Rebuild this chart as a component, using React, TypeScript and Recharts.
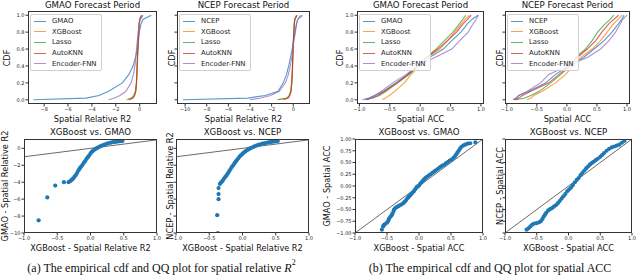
import { ComposedChart, Line, Scatter, XAxis, YAxis, ReferenceLine } from 'recharts';

const cdfLevels = [0, 0.02, 0.05, 0.1, 0.2, 0.3, 0.4, 0.5, 0.6, 0.7, 0.8, 0.9, 0.95, 1];
const cdfTicks = [0, 0.2, 0.4, 0.6, 0.8, 1];

const gmaoNames = ['GMAO', 'XGBoost', 'Lasso', 'AutoKNN', 'Encoder-FNN'];
const ncepNames = ['NCEP', 'XGBoost', 'Lasso', 'AutoKNN', 'Encoder-FNN'];
const seriesColors = ['#1f77b4', '#ff7f0e', '#2ca02c', '#d62728', '#9467bd'];

// spatial relative R2, GMAO period
const r2GmaoBase = [-8.9, -4.5, -3.4, -2.6, -1.45, -0.9, -0.55, -0.35, -0.2, -0.1, -0.03, 0.12, 0.27, 0.97];
const r2GmaoXgb = [-1.1, -0.62, -0.45, -0.33, -0.27, -0.24, -0.22, -0.19, -0.16, -0.13, -0.1, -0.06, -0.02, 0.12];
const r2GmaoLasso = [-1.0, -0.7, -0.5, -0.36, -0.28, -0.25, -0.22, -0.19, -0.16, -0.13, -0.09, -0.04, 0.0, 0.18];
const r2GmaoKnn = [-0.85, -0.55, -0.42, -0.32, -0.26, -0.22, -0.2, -0.17, -0.14, -0.11, -0.08, -0.03, 0.02, 0.2];
const r2GmaoEnc = [-2.6, -2.1, -1.65, -1.15, -0.72, -0.52, -0.4, -0.33, -0.27, -0.2, -0.13, -0.04, 0.05, 0.3];

// spatial relative R2, NCEP period
const r2NcepBase = [-10.2, -4.2, -2.6, -1.4, -0.92, -0.62, -0.42, -0.25, -0.1, 0.02, 0.16, 0.3, 0.42, 0.85];
const r2NcepXgb = [-1.4, -0.55, -0.35, -0.22, -0.14, -0.1, -0.07, -0.04, -0.02, 0.01, 0.05, 0.1, 0.14, 0.32];
const r2NcepLasso = [-1.45, -0.6, -0.38, -0.24, -0.15, -0.1, -0.07, -0.05, -0.02, 0.01, 0.04, 0.09, 0.13, 0.3];
const r2NcepKnn = [-0.9, -0.45, -0.32, -0.2, -0.13, -0.09, -0.06, -0.03, 0.0, 0.03, 0.06, 0.11, 0.15, 0.36];
const r2NcepEnc = [-4.0, -3.0, -2.1, -1.3, -0.72, -0.45, -0.27, -0.14, -0.04, 0.07, 0.2, 0.32, 0.42, 0.65];

// spatial ACC, GMAO period
const accGmaoBase = [-0.95, -0.85, -0.75, -0.6, -0.4, -0.2, -0.04, 0.15, 0.38, 0.52, 0.67, 0.78, 0.85, 0.95];
const accGmaoXgb = [-0.62, -0.57, -0.51, -0.42, -0.26, -0.15, -0.01, 0.12, 0.32, 0.45, 0.57, 0.68, 0.74, 0.81];
const accGmaoLasso = [-0.9, -0.78, -0.67, -0.56, -0.37, -0.18, -0.03, 0.1, 0.26, 0.4, 0.54, 0.65, 0.7, 0.75];
const accGmaoKnn = [-0.88, -0.8, -0.7, -0.59, -0.38, -0.2, -0.04, 0.1, 0.29, 0.45, 0.6, 0.71, 0.78, 0.84];
const accGmaoEnc = [-0.9, -0.82, -0.75, -0.64, -0.45, -0.23, -0.05, 0.24, 0.52, 0.65, 0.79, 0.87, 0.92, 0.96];

// spatial ACC, NCEP period
const accNcepBase = [-0.88, -0.84, -0.8, -0.63, -0.35, -0.19, 0.03, 0.28, 0.45, 0.62, 0.75, 0.86, 0.91, 0.95];
const accNcepXgb = [-0.66, -0.6, -0.55, -0.41, -0.19, -0.02, 0.1, 0.23, 0.42, 0.56, 0.67, 0.78, 0.85, 0.92];
const accNcepLasso = [-0.85, -0.7, -0.6, -0.46, -0.27, -0.1, 0.06, 0.14, 0.31, 0.42, 0.51, 0.64, 0.72, 0.78];
const accNcepKnn = [-0.87, -0.8, -0.74, -0.6, -0.3, -0.13, 0.05, 0.17, 0.34, 0.48, 0.58, 0.7, 0.78, 0.86];
const accNcepEnc = [-0.9, -0.85, -0.8, -0.66, -0.44, -0.3, 0.0, 0.34, 0.56, 0.7, 0.81, 0.89, 0.93, 1.0];

// QQ points: [XGBoost quantile, baseline quantile]
const qqR2Gmao: [number, number][] = [
  [-0.78, -8.5], [-0.65, -5.8], [-0.53, -4.4], [-0.4, -4.0], [-0.33, -4.0],
  [-0.3, -3.85], [-0.28, -3.7], [-0.26, -3.55], [-0.24, -3.35], [-0.22, -3.15], [-0.2, -2.9],
  [-0.18, -2.6], [-0.16, -2.35], [-0.14, -2.15], [-0.12, -1.95], [-0.1, -1.7], [-0.08, -1.5],
  [-0.06, -1.25], [-0.04, -1.05], [-0.02, -0.85], [0.0, -0.6], [0.02, -0.42], [0.04, -0.28],
  [0.06, -0.15], [0.08, -0.05], [0.1, 0.05], [0.13, 0.17], [0.16, 0.28], [0.19, 0.38],
  [0.22, 0.48], [0.25, 0.56], [0.28, 0.62], [0.31, 0.68], [0.34, 0.72], [0.37, 0.76],
  [0.4, 0.8], [0.43, 0.83], [0.46, 0.85], [0.48, 0.87],
];
const qqR2Ncep: [number, number][] = [
  [-0.37, -10.0], [-0.38, -7.9], [-0.36, -6.0], [-0.36, -5.4], [-0.36, -4.7],
  [-0.34, -4.2], [-0.32, -4.0], [-0.3, -3.85], [-0.28, -3.6], [-0.26, -3.4], [-0.24, -3.2],
  [-0.22, -2.95], [-0.2, -2.7], [-0.18, -2.45], [-0.16, -2.2], [-0.14, -2.0], [-0.12, -1.75],
  [-0.1, -1.55], [-0.08, -1.35], [-0.06, -1.15], [-0.04, -0.95], [-0.02, -0.8], [0.0, -0.65],
  [0.02, -0.5], [0.04, -0.38], [0.06, -0.26], [0.08, -0.16], [0.1, -0.07], [0.12, 0.02],
  [0.15, 0.12], [0.18, 0.22], [0.21, 0.32], [0.24, 0.4], [0.27, 0.48], [0.3, 0.55],
  [0.33, 0.6], [0.36, 0.65], [0.39, 0.7], [0.42, 0.74], [0.45, 0.78], [0.48, 0.81],
  [0.51, 0.84], [0.53, 0.86],
];
const qqAccGmao: [number, number][] = [
  [-0.58, -0.93], [-0.56, -0.86], [-0.55, -0.83], [-0.53, -0.81], [-0.5, -0.78], [-0.48, -0.74],
  [-0.47, -0.7], [-0.45, -0.66], [-0.43, -0.63], [-0.42, -0.6], [-0.4, -0.55], [-0.39, -0.5],
  [-0.37, -0.47], [-0.35, -0.45], [-0.32, -0.43], [-0.3, -0.41], [-0.27, -0.39], [-0.24, -0.36],
  [-0.22, -0.33], [-0.2, -0.3], [-0.18, -0.26], [-0.16, -0.23], [-0.14, -0.2], [-0.12, -0.17],
  [-0.1, -0.14], [-0.08, -0.11], [-0.06, -0.07], [-0.04, -0.03], [-0.02, -0.01], [0.0, 0.01],
  [0.02, 0.05], [0.04, 0.08], [0.06, 0.11], [0.08, 0.14], [0.1, 0.17], [0.12, 0.19],
  [0.15, 0.22], [0.18, 0.25], [0.21, 0.28], [0.24, 0.31], [0.27, 0.34], [0.3, 0.37],
  [0.33, 0.4], [0.36, 0.43], [0.39, 0.45], [0.42, 0.48], [0.45, 0.51], [0.48, 0.54],
  [0.51, 0.56], [0.54, 0.6], [0.56, 0.63], [0.58, 0.67], [0.6, 0.71], [0.62, 0.75],
  [0.64, 0.79], [0.66, 0.83], [0.69, 0.86], [0.72, 0.88], [0.76, 0.9], [0.8, 0.91], [0.88, 0.93],
];
const qqAccNcep: [number, number][] = [
  [-0.66, -0.93], [-0.63, -0.9], [-0.6, -0.86], [-0.57, -0.82], [-0.54, -0.8], [-0.5, -0.79],
  [-0.46, -0.77], [-0.43, -0.74], [-0.41, -0.7], [-0.39, -0.65], [-0.37, -0.61], [-0.35, -0.57],
  [-0.32, -0.52], [-0.29, -0.49], [-0.26, -0.47], [-0.23, -0.44], [-0.2, -0.41], [-0.17, -0.37],
  [-0.14, -0.32], [-0.11, -0.27], [-0.08, -0.22], [-0.05, -0.17], [-0.02, -0.11], [0.01, -0.07],
  [0.04, -0.03], [0.07, 0.02], [0.1, 0.08], [0.13, 0.13], [0.16, 0.17], [0.19, 0.23],
  [0.22, 0.28], [0.25, 0.33], [0.28, 0.38], [0.31, 0.42], [0.34, 0.46], [0.37, 0.49],
  [0.4, 0.52], [0.43, 0.55], [0.46, 0.58], [0.5, 0.62], [0.53, 0.66], [0.56, 0.7],
  [0.6, 0.75], [0.64, 0.79], [0.68, 0.82], [0.72, 0.84], [0.76, 0.86], [0.8, 0.88],
  [0.84, 0.92], [0.88, 0.96],
];

const r2TicksA = [-8, -6, -4, -2, 0];
const r2TicksB = [-10, -8, -6, -4, -2, 0];
const qqR2YTicks = [-10, -8, -6, -4, -2, 0];
const accTicks = [-1, -0.5, 0, 0.5, 1];
const accQqTicks = [-1, -0.75, -0.5, -0.25, 0, 0.25, 0.5, 0.75, 1];

type Frame = { x: number; y: number; w: number; h: number };
const PAD_L = 30;
const PAD_B = 14;
const PAD_T = 3;
const PAD_R = 4;
const FONT = 'DejaVu Sans';

const fmt = (d: number) => (v: number) => (v < 0 ? '\u2212' : '') + Math.abs(v).toFixed(d);
const blank = () => '';

function Panel({ frame, xDomain, yDomain, xTicks, yTicks, xFmt, yFmt, children }: any) {
  return (
    <>
      <div style={{ position: 'absolute', left: frame.x - PAD_L, top: frame.y - PAD_T }}>
        <ComposedChart
          width={frame.w + PAD_L + PAD_R}
          height={frame.h + PAD_T + PAD_B}
          margin={{ top: PAD_T, right: PAD_R, bottom: 0, left: 0 }}
        >
          <XAxis
            type="number"
            dataKey="x"
            domain={xDomain}
            ticks={xTicks}
            interval={0}
            allowDataOverflow
            height={PAD_B}
            axisLine={false}
            stroke="#333"
            tickSize={2.5}
            tickMargin={1}
            tick={{ fontSize: 5, fill: '#222', fontFamily: FONT }}
            tickFormatter={xFmt}
          />
          <YAxis
            type="number"
            dataKey="y"
            domain={yDomain}
            ticks={yTicks}
            interval={0}
            allowDataOverflow
            width={PAD_L}
            axisLine={false}
            stroke="#333"
            tickSize={2.5}
            tickMargin={1}
            tick={{ fontSize: 5, fill: '#222', fontFamily: FONT }}
            tickFormatter={yFmt}
          />
          {children}
        </ComposedChart>
      </div>
      <div
        style={{
          position: 'absolute',
          left: frame.x,
          top: frame.y,
          width: frame.w,
          height: frame.h,
          border: '1px solid #333',
          boxSizing: 'border-box',
        }}
      />
    </>
  );
}

function Txt({ x, y, size, rotate, family, children }: any) {
  return (
    <div
      style={{
        position: 'absolute',
        left: x,
        top: y,
        transform: `translate(-50%, -50%)${rotate ? ' rotate(-90deg)' : ''}`,
        fontSize: size,
        fontFamily: family ?? FONT,
        whiteSpace: 'nowrap',
        lineHeight: 1,
        color: '#111',
      }}
    >
      {children}
    </div>
  );
}

function CdfLegend({ frame, names }: { frame: Frame; names: string[] }) {
  return (
    <div
      style={{
        position: 'absolute',
        left: frame.x + 2,
        top: frame.y + 3,
        width: 70,
        padding: '1px 0',
        border: '1px solid #d0d0d0',
        borderRadius: 2,
        background: 'rgba(255,255,255,0.85)',
        fontFamily: FONT,
        fontSize: 6.9,
        color: '#222',
      }}
    >
      {names.map((n, i) => (
        <div key={n} style={{ display: 'flex', alignItems: 'center', height: 10.6 }}>
          <div
            style={{
              width: 12,
              borderTop: `1.2px solid ${seriesColors[i]}`,
              opacity: 0.75,
              marginLeft: 3,
              marginRight: 6,
            }}
          />
          <span>{n}</span>
        </div>
      ))}
    </div>
  );
}

function cdfLines(series: number[][]) {
  return series.map((xs, i) => (
    <Line
      key={i}
      data={xs.map((x, k) => ({ x, y: cdfLevels[k] }))}
      dataKey="y"
      type="linear"
      stroke={seriesColors[i]}
      strokeWidth={1.1}
      strokeOpacity={0.75}
      dot={false}
      isAnimationActive={false}
    />
  ));
}

function qqMarks(points: [number, number][]) {
  return [
    <ReferenceLine
      key="diag"
      segment={[{ x: -1, y: -1 }, { x: 1, y: 1 }]}
      stroke="#444"
      strokeWidth={0.8}
    />,
    <Scatter
      key="pts"
      data={points.map(([x, y]) => ({ x, y }))}
      isAnimationActive={false}
      shape={(p: any) => <circle cx={p.cx} cy={p.cy} r={2.1} fill="#1f77b4" />}
    />,
  ];
}

const f1: Frame = { x: 28, y: 11, w: 129, h: 93 };
const f2: Frame = { x: 177, y: 11, w: 133, h: 93 };
const f3: Frame = { x: 357, y: 11, w: 127, h: 93 };
const f4: Frame = { x: 505, y: 11, w: 125, h: 93 };
const f5: Frame = { x: 24, y: 139, w: 133, h: 94 };
const f6: Frame = { x: 176, y: 139, w: 133, h: 94 };
const f7: Frame = { x: 355, y: 139, w: 128, h: 94 };
const f8: Frame = { x: 505, y: 139, w: 127, h: 94 };

const cx = (f: Frame) => f.x + f.w / 2;
const cy = (f: Frame) => f.y + f.h / 2;

export default function App() {
  const titleSize = 8.6;
  const labelSize = 8.2;
  return (
    <div
      style={{
        position: 'absolute',
        left: 0,
        top: 0,
        width: 640,
        height: 279,
        background: '#fff',
        overflow: 'hidden',
      }}
    >
      {/* top row: empirical cdfs */}
      <Panel frame={f1} xDomain={[-9.35, 1.45]} yDomain={[-0.05, 1.05]} xTicks={r2TicksA} yTicks={cdfTicks} xFmt={fmt(0)} yFmt={fmt(1)}>
        {cdfLines([r2GmaoBase, r2GmaoXgb, r2GmaoLasso, r2GmaoKnn, r2GmaoEnc])}
      </Panel>
      <Panel frame={f2} xDomain={[-10.75, 1.55]} yDomain={[-0.05, 1.05]} xTicks={r2TicksB} yTicks={cdfTicks} xFmt={fmt(0)} yFmt={blank}>
        {cdfLines([r2NcepBase, r2NcepXgb, r2NcepLasso, r2NcepKnn, r2NcepEnc])}
      </Panel>
      <Panel frame={f3} xDomain={[-1.04, 1.05]} yDomain={[-0.05, 1.05]} xTicks={accTicks} yTicks={cdfTicks} xFmt={fmt(1)} yFmt={fmt(1)}>
        {cdfLines([accGmaoBase, accGmaoXgb, accGmaoLasso, accGmaoKnn, accGmaoEnc])}
      </Panel>
      <Panel frame={f4} xDomain={[-1.03, 1.05]} yDomain={[-0.05, 1.05]} xTicks={accTicks} yTicks={cdfTicks} xFmt={fmt(1)} yFmt={blank}>
        {cdfLines([accNcepBase, accNcepXgb, accNcepLasso, accNcepKnn, accNcepEnc])}
      </Panel>

      <CdfLegend frame={f1} names={gmaoNames} />
      <CdfLegend frame={f2} names={ncepNames} />
      <CdfLegend frame={f3} names={gmaoNames} />
      <CdfLegend frame={f4} names={ncepNames} />

      {/* bottom row: QQ plots */}
      <Panel frame={f5} xDomain={[-1, 1]} yDomain={[-10, 1.1]} xTicks={accTicks} yTicks={qqR2YTicks} xFmt={fmt(1)} yFmt={fmt(0)}>
        {qqMarks(qqR2Gmao)}
      </Panel>
      <Panel frame={f6} xDomain={[-1, 1]} yDomain={[-10, 1.1]} xTicks={accTicks} yTicks={qqR2YTicks} xFmt={fmt(1)} yFmt={blank}>
        {qqMarks(qqR2Ncep)}
      </Panel>
      <Panel frame={f7} xDomain={[-1, 1]} yDomain={[-1, 1]} xTicks={accTicks} yTicks={accQqTicks} xFmt={fmt(1)} yFmt={fmt(2)}>
        {qqMarks(qqAccGmao)}
      </Panel>
      <Panel frame={f8} xDomain={[-1, 1]} yDomain={[-1, 1]} xTicks={accTicks} yTicks={accQqTicks} xFmt={fmt(1)} yFmt={blank}>
        {qqMarks(qqAccNcep)}
      </Panel>

      {/* titles */}
      <Txt x={cx(f1)} y={5} size={titleSize}>GMAO Forecast Period</Txt>
      <Txt x={cx(f2)} y={5} size={titleSize}>NCEP Forecast Period</Txt>
      <Txt x={cx(f3)} y={5} size={titleSize}>GMAO Forecast Period</Txt>
      <Txt x={cx(f4)} y={5} size={titleSize}>NCEP Forecast Period</Txt>
      <Txt x={cx(f5)} y={132} size={titleSize}>XGBoost vs. GMAO</Txt>
      <Txt x={cx(f6)} y={132} size={titleSize}>XGBoost vs. NCEP</Txt>
      <Txt x={cx(f7)} y={132} size={titleSize}>XGBoost vs. GMAO</Txt>
      <Txt x={cx(f8)} y={132} size={titleSize}>XGBoost vs. NCEP</Txt>

      {/* axis labels */}
      <Txt x={cx(f1)} y={119} size={labelSize}>Spatial Relative R2</Txt>
      <Txt x={cx(f2)} y={119} size={labelSize}>Spatial Relative R2</Txt>
      <Txt x={cx(f3)} y={119} size={labelSize}>Spatial ACC</Txt>
      <Txt x={cx(f4)} y={119} size={labelSize}>Spatial ACC</Txt>
      <Txt x={7} y={cy(f1)} size={labelSize} rotate>CDF</Txt>
      <Txt x={172} y={cy(f2)} size={labelSize} rotate>CDF</Txt>
      <Txt x={340} y={cy(f3)} size={labelSize} rotate>CDF</Txt>
      <Txt x={500} y={cy(f4)} size={labelSize} rotate>CDF</Txt>

      <Txt x={cx(f5)} y={248} size={labelSize}>XGBoost - Spatial Relative R2</Txt>
      <Txt x={cx(f6)} y={248} size={labelSize}>XGBoost - Spatial Relative R2</Txt>
      <Txt x={cx(f7)} y={248} size={labelSize}>XGBoost - Spatial ACC</Txt>
      <Txt x={cx(f8)} y={248} size={labelSize}>XGBoost - Spatial ACC</Txt>
      <Txt x={5} y={cy(f5)} size={labelSize} rotate>GMAO - Spatial Relative R2</Txt>
      <Txt x={170} y={cy(f6)} size={labelSize} rotate>NCEP - Spatial Relative R2</Txt>
      <Txt x={327} y={cy(f7)} size={labelSize} rotate>GMAO - Spatial ACC</Txt>
      <Txt x={500} y={cy(f8)} size={labelSize} rotate>NCEP - Spatial ACC</Txt>

      {/* captions */}
      <Txt x={161.5} y={268} size={12} family="Liberation Serif">
        (a) The empirical cdf and QQ plot for spatial relative <i>R</i>
        <sup style={{ fontSize: 8, verticalAlign: 'top', position: 'relative', top: -3 }}>2</sup>
      </Txt>
      <Txt x={490} y={268} size={12} family="Liberation Serif">
        (b) The empirical cdf and QQ plot for spatial ACC
      </Txt>
    </div>
  );
}
